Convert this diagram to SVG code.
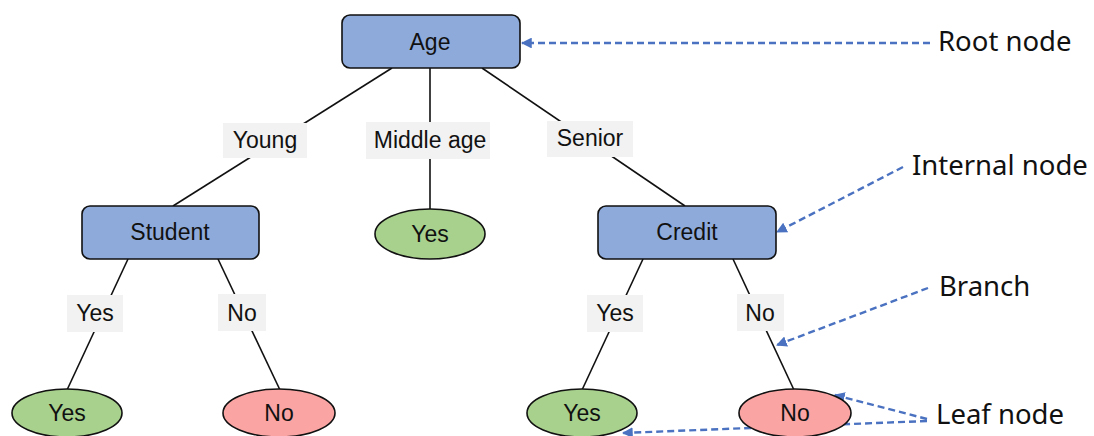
<svg xmlns="http://www.w3.org/2000/svg" width="1094" height="436" viewBox="0 0 1094 436">
  <defs>
    <marker id="arrow" viewBox="0 0 10 10" refX="9" refY="5" markerWidth="4.5" markerHeight="4.5" orient="auto-start-reverse" markerUnits="strokeWidth">
      <path d="M0,0 L10,5 L0,10 Z" fill="#4a72c0"/>
    </marker>
    <style>
      .edge { stroke: #111; stroke-width: 1.6; fill: none; }
      .note { stroke: #4a72c0; stroke-width: 2.4; fill: none; stroke-dasharray: 7 4; }
      .box { fill: #8eaadb; stroke: #111; stroke-width: 1.6; }
      .yes { fill: #a9d18e; stroke: #111; stroke-width: 1.6; }
      .no { fill: #fba4a4; stroke: #111; stroke-width: 1.6; }
      .lbl { fill: #f2f2f2; }
      .t { font-family: "Liberation Sans", Arial, sans-serif; font-size: 23px; fill: #111; text-anchor: middle; }
      .ann { font-family: "Noto Sans", "Open Sans", sans-serif; font-size: 27.5px; fill: #111; }
    </style>
  </defs>
  <rect width="1094" height="436" fill="#ffffff"/>

  <!-- tree edges and annotation pointers -->
  <g id="connectors">
    <line class="edge" x1="392" y1="68" x2="173" y2="206"/>
    <line class="edge" x1="430" y1="68" x2="430" y2="210"/>
    <line class="edge" x1="482" y1="68" x2="685" y2="206"/>
    <line class="edge" x1="128" y1="259" x2="67" y2="390"/>
    <line class="edge" x1="218" y1="259" x2="280" y2="390"/>
    <line class="edge" x1="643" y1="259" x2="582" y2="390"/>
    <line class="edge" x1="733" y1="259" x2="794" y2="390"/>

    <line class="note" x1="930" y1="43" x2="522" y2="43" marker-end="url(#arrow)"/>
    <line class="note" x1="903" y1="167" x2="777" y2="232" marker-end="url(#arrow)"/>
    <line class="note" x1="928" y1="288" x2="777" y2="345" marker-end="url(#arrow)"/>
    <line class="note" x1="927" y1="419" x2="835" y2="395" marker-end="url(#arrow)"/>
    <line class="note" x1="927" y1="421" x2="623" y2="433" marker-end="url(#arrow)"/>
  </g>

  <!-- branch labels -->
  <g id="edge-labels">
    <g id="lbl-young"><rect class="lbl" x="223" y="123" width="84" height="35"/><text class="t" x="265" y="148">Young</text></g>
    <g id="lbl-middle"><rect class="lbl" x="366" y="122" width="124" height="37"/><text class="t" x="430" y="148">Middle age</text></g>
    <g id="lbl-senior"><rect class="lbl" x="547" y="121" width="86" height="36"/><text class="t" x="590" y="146">Senior</text></g>
    <g id="lbl-s-yes"><rect class="lbl" x="67" y="295" width="56" height="37"/><text class="t" x="95" y="321">Yes</text></g>
    <g id="lbl-s-no"><rect class="lbl" x="218" y="294" width="48" height="37"/><text class="t" x="242" y="321">No</text></g>
    <g id="lbl-c-yes"><rect class="lbl" x="587" y="295" width="56" height="37"/><text class="t" x="615" y="321">Yes</text></g>
    <g id="lbl-c-no"><rect class="lbl" x="737" y="294" width="47" height="37"/><text class="t" x="760" y="321">No</text></g>
  </g>

  <!-- decision nodes -->
  <g id="node-age"><rect class="box" x="342" y="15" width="178" height="53" rx="8"/><text class="t" x="430" y="50">Age</text></g>
  <g id="node-student"><rect class="box" x="82" y="206" width="177" height="53" rx="8"/><text class="t" x="170" y="240">Student</text></g>
  <g id="node-credit"><rect class="box" x="598" y="206" width="178" height="53" rx="8"/><text class="t" x="687" y="240">Credit</text></g>

  <!-- leaves -->
  <g id="leaf-middle-yes"><ellipse class="yes" cx="430" cy="234" rx="55" ry="25"/><text class="t" x="430" y="242">Yes</text></g>
  <g id="leaf-student-yes"><ellipse class="yes" cx="67" cy="413" rx="55" ry="24"/><text class="t" x="67" y="421">Yes</text></g>
  <g id="leaf-student-no"><ellipse class="no" cx="279" cy="413" rx="56" ry="24"/><text class="t" x="279" y="421">No</text></g>
  <g id="leaf-credit-yes"><ellipse class="yes" cx="582" cy="413" rx="55" ry="24"/><text class="t" x="582" y="421">Yes</text></g>
  <g id="leaf-credit-no"><ellipse class="no" cx="795" cy="413" rx="56" ry="24"/><text class="t" x="795" y="421">No</text></g>

  <!-- annotation captions -->
  <g id="captions">
    <text class="ann" x="938" y="51">Root node</text>
    <text class="ann" x="912" y="175">Internal node</text>
    <text class="ann" x="939" y="296">Branch</text>
    <text class="ann" x="936" y="424">Leaf node</text>
  </g>
</svg>
